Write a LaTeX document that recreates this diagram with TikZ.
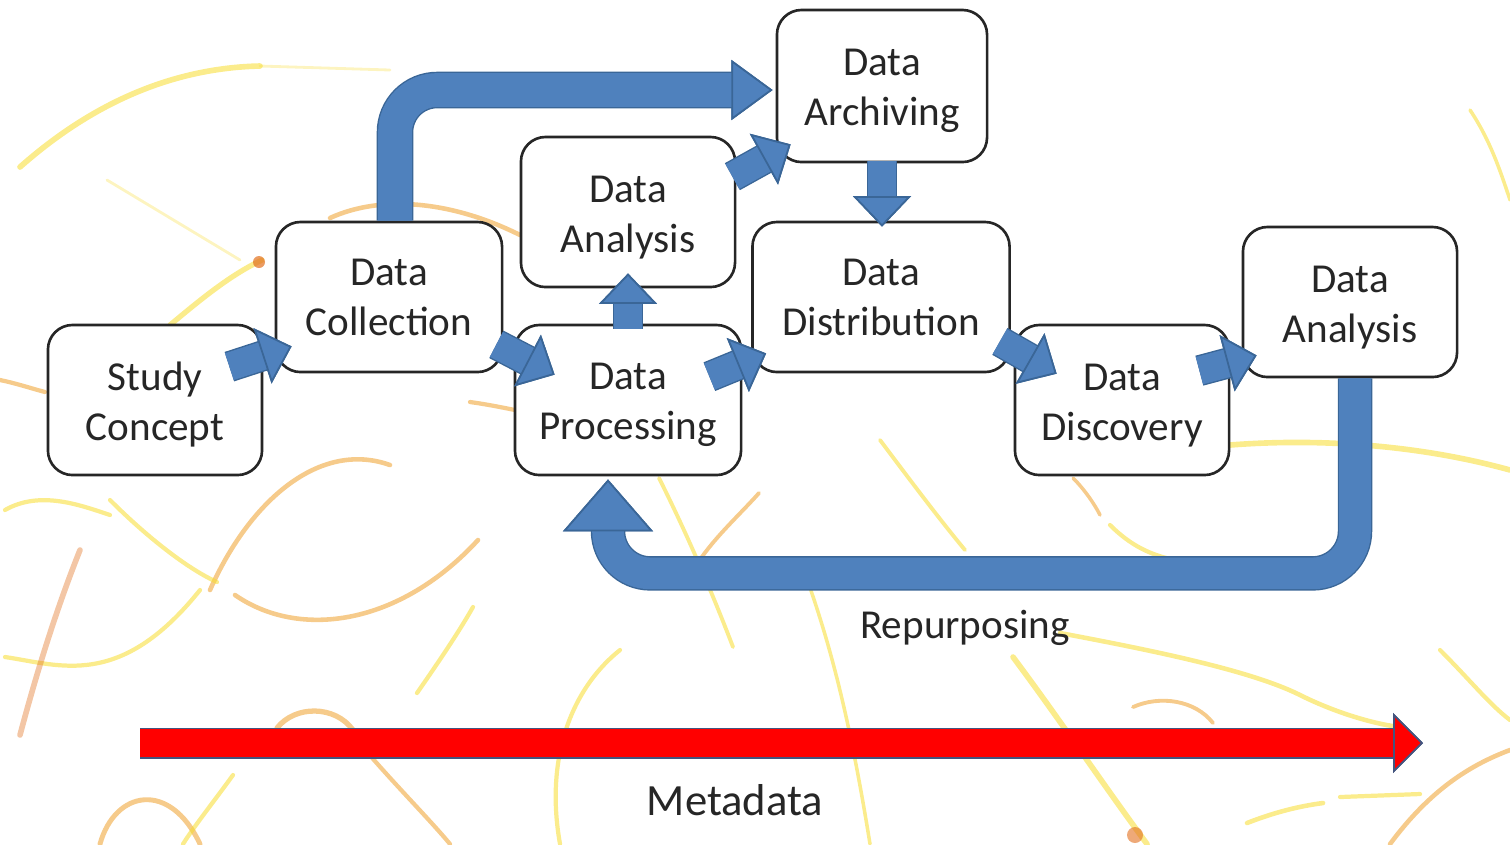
\documentclass[tikz,border=0pt]{standalone}
\usepackage{fontspec}
\setmainfont{Carlito}
\usetikzlibrary{arrows.meta, calc, positioning}

\definecolor{flowblue}{HTML}{4F81BD}
\definecolor{flowedge}{HTML}{3A6697}
\definecolor{metared}{HTML}{FF0000}
\definecolor{metaedge}{HTML}{44557F}
\definecolor{streakyellow}{HTML}{F7DC2E}
\definecolor{streakorange}{HTML}{EFA02C}
\definecolor{streakrust}{HTML}{E2701E}

\newcommand{\topgap}{\rule{0pt}{10.5pt}}

\tikzset{
  stage/.style={draw=black!85, line width=0.75pt, rounded corners=7pt, fill=white,
    align=center, inner sep=0pt, minimum height=1.5cm, minimum width=2.14cm,
    text=black!85, font=\fontsize{11.7}{14.2}\selectfont},
  smallflow/.style={draw=flowblue, line width=8pt,
    preaction={draw=flowedge, line width=8.8pt},
    -{Triangle[length=8.7pt, width=16.5pt, line width=0.5pt, color=flowedge, fill=flowblue]}},
  bigflow/.style={draw=flowblue, line width=9.6pt, rounded corners=12pt,
    preaction={draw=flowedge, line width=10.4pt},
    -{Triangle[length=11.7pt, width=17pt, line width=0.5pt, color=flowedge, fill=flowblue]}},
  backflow/.style={draw=flowblue, line width=9pt, rounded corners=12pt,
    preaction={draw=flowedge, line width=9.8pt},
    -{Triangle[length=14.8pt, width=25.6pt, line width=0.5pt, color=flowedge, fill=flowblue]}},
  metaflow/.style={draw=metared, line width=8pt,
    preaction={draw=metaedge, line width=8.8pt},
    -{Triangle[length=8.5pt, width=17pt, line width=0.5pt, color=metaedge, fill=metared]}},
  streak/.style={line cap=round, opacity=0.55, line width=#1}
}

\begin{document}
\begin{tikzpicture}[x=0.01cm, y=-0.01cm]
    \useasboundingbox (0,0) rectangle (1510,844);

    % faint streaks in the background
    \begin{scope}
    \clip (0,0) rectangle (1510,844);
    \draw[streak=1.6pt, streakyellow] (20,167) .. controls (90,105) and (170,68) .. (260,66);
    \draw[streak=0.8pt, streakyellow, opacity=0.3] (260,66) -- (390,70);
    \draw[streak=0.8pt, streakyellow, opacity=0.3] (107,180) -- (240,260);
    \draw[streak=1.5pt, streakyellow] (170,325) .. controls (200,300) and (230,275) .. (262,260);
    \fill[streakrust, opacity=0.7] (259,262) circle (6);
    \draw[streak=1.3pt, streakorange] (330,218) .. controls (380,195) and (450,200) .. (520,235);
    \draw[streak=1.2pt, streakorange] (0,380) .. controls (15,383) and (30,388) .. (45,392);
    \draw[streak=1.2pt, streakorange] (470,402) .. controls (485,404) and (500,407) .. (515,410);
    % lower left
    \draw[streak=1.2pt, streakyellow] (5,510) .. controls (40,490) and (80,505) .. (110,515);
    \draw[streak=1.3pt, streakorange] (210,590) .. controls (250,500) and (320,440) .. (390,465);
    \draw[streak=1.3pt, streakorange] (235,595) .. controls (300,640) and (400,625) .. (478,540);
    \draw[streak=1.2pt, streakyellow] (5,657) .. controls (60,665) and (120,690) .. (200,590);
    \draw[streak=1.2pt, streakyellow] (110,500) .. controls (150,540) and (190,570) .. (217,582);
    \draw[streak=1.6pt, streakrust, opacity=0.4] (20,735) .. controls (40,660) and (60,600) .. (80,550);
    \draw[streak=1.4pt, streakorange] (100,844) .. controls (115,790) and (170,780) .. (200,844);
    \draw[streak=1.5pt, streakorange] (277,728) .. controls (295,705) and (335,705) .. (353,730);
    \draw[streak=1.2pt, streakorange] (367,752) .. controls (400,790) and (430,820) .. (450,844);
    \draw[streak=1.2pt, streakyellow] (417,693) .. controls (440,660) and (460,630) .. (473,607);
    \draw[streak=1.2pt, streakyellow] (233,775) .. controls (215,800) and (195,825) .. (183,844);
    \draw[streak=1.2pt, streakyellow] (560,844) .. controls (545,760) and (570,690) .. (620,650);
    % middle
    \draw[streak=1.1pt, streakorange] (759,493) .. controls (735,520) and (700,550) .. (686,585);
    \draw[streak=1.1pt, streakyellow] (659,478) .. controls (690,540) and (715,600) .. (733,647);
    \draw[streak=1.1pt, streakyellow] (880,440) .. controls (910,480) and (940,520) .. (965,550);
    \draw[streak=1.0pt, streakyellow] (800,560) .. controls (830,640) and (850,720) .. (870,844);
    % lower right
    \draw[streak=1.0pt, streakorange] (1073,478) .. controls (1085,490) and (1095,505) .. (1100,515);
    \draw[streak=1.2pt, streakyellow] (1110,525) .. controls (1130,545) and (1150,555) .. (1175,560);
    \draw[streak=1.6pt, streakyellow] (1230,445) .. controls (1320,438) and (1420,445) .. (1510,470);
    \draw[streak=1.3pt, streakyellow] (1060,633) .. controls (1150,650) and (1250,670) .. (1300,695) .. controls (1340,715) and (1380,725) .. (1400,727);
    \draw[streak=1.6pt, streakyellow] (1013,657) .. controls (1060,720) and (1100,780) .. (1147,844);
    \fill[streakrust, opacity=0.6] (1135,835) circle (8);
    \draw[streak=1.1pt, streakorange] (1133,707) .. controls (1160,695) and (1195,700) .. (1213,723);
    \draw[streak=1.3pt, streakyellow] (1247,823) .. controls (1275,812) and (1300,806) .. (1323,803);
    \draw[streak=1.2pt, streakyellow] (1340,797) -- (1420,794);
    \draw[streak=1.2pt, streakyellow] (1440,650) .. controls (1470,680) and (1490,705) .. (1510,720);
    \draw[streak=1.3pt, streakorange] (1390,844) .. controls (1430,790) and (1470,765) .. (1510,750);
    \draw[streak=1.0pt, streakyellow] (1470,110) .. controls (1490,140) and (1500,170) .. (1510,200);
    \end{scope}

    % stages
    \node[stage] (study) at (155,400) {\topgap Study\\Concept};
    \node[stage, minimum width=2.26cm] (collect) at (389,297) {Data\\Collection};
    \node[stage] (analysis) at (628,212) {\topgap Data\\Analysis};
    \node[stage, minimum width=2.26cm] (process) at (628,400) {\topgap Data\\Processing};
    \node[stage, minimum width=2.10cm, minimum height=1.52cm] (archive) at (882,86) {\topgap Data\\Archiving};
    \node[stage, minimum width=2.57cm] (distrib) at (881,297) {Data\\Distribution};
    \node[stage] (discover) at (1122,400) {\topgap Data\\Discovery};
    \node[stage] (reuse) at (1350,302) {\topgap Data\\Analysis};

    % block arrows between stages
    \draw[smallflow] ($(study.north east)+(-34,43)$) -- ($(collect.south west)+(17,-27)$);
    \draw[smallflow] ($(collect.south east)+(-7,-29)$) -- ($(process.north west)+(41,51)$);
    \draw[smallflow] ($(process.north)+(0,5)$) -- ($(analysis.south)+(0,-15)$);
    \draw[smallflow] ($(analysis.north east)+(-4,41)$) -- ($(archive.south west)+(15,-19)$);
    \draw[smallflow] ($(process.north east)+(-33,53)$) -- ($(distrib.south west)+(15,-20)$);
    \draw[smallflow] ($(archive.south)+(0,-2)$) -- ($(distrib.north)+(1,6)$);
    \draw[smallflow] ($(distrib.south east)+(-11,-32)$) -- ($(discover.north west)+(43,50)$);
    \draw[smallflow] ($(discover.north east)+(-31,47)$) -- ($(reuse.south west)+(15,-23)$);

    % collection straight to archiving
    \draw[bigflow] ($(collect.north)+(6,0)$) |- ($(archive.west)+(-3,4)$);

    % repurposing loop
    \draw[backflow] ($(reuse.south)+(5,0)$) -- ++(0,195) -| ($(process.south)+(-20,3)$);
    \node[font=\fontsize{11.7}{14.2}\selectfont, text=black!85] (repurp) at (965,628) {Repurposing};

    % metadata bar
    \coordinate (metastart) at (140,743);
    \coordinate (metaend) at (1423,743);
    \draw[metaflow] (metastart) -- (metaend);
    \node[font=\fontsize{12.7}{15}\selectfont, text=black!85] (meta) at (735,800) {Metadata};
\end{tikzpicture}
\end{document}
